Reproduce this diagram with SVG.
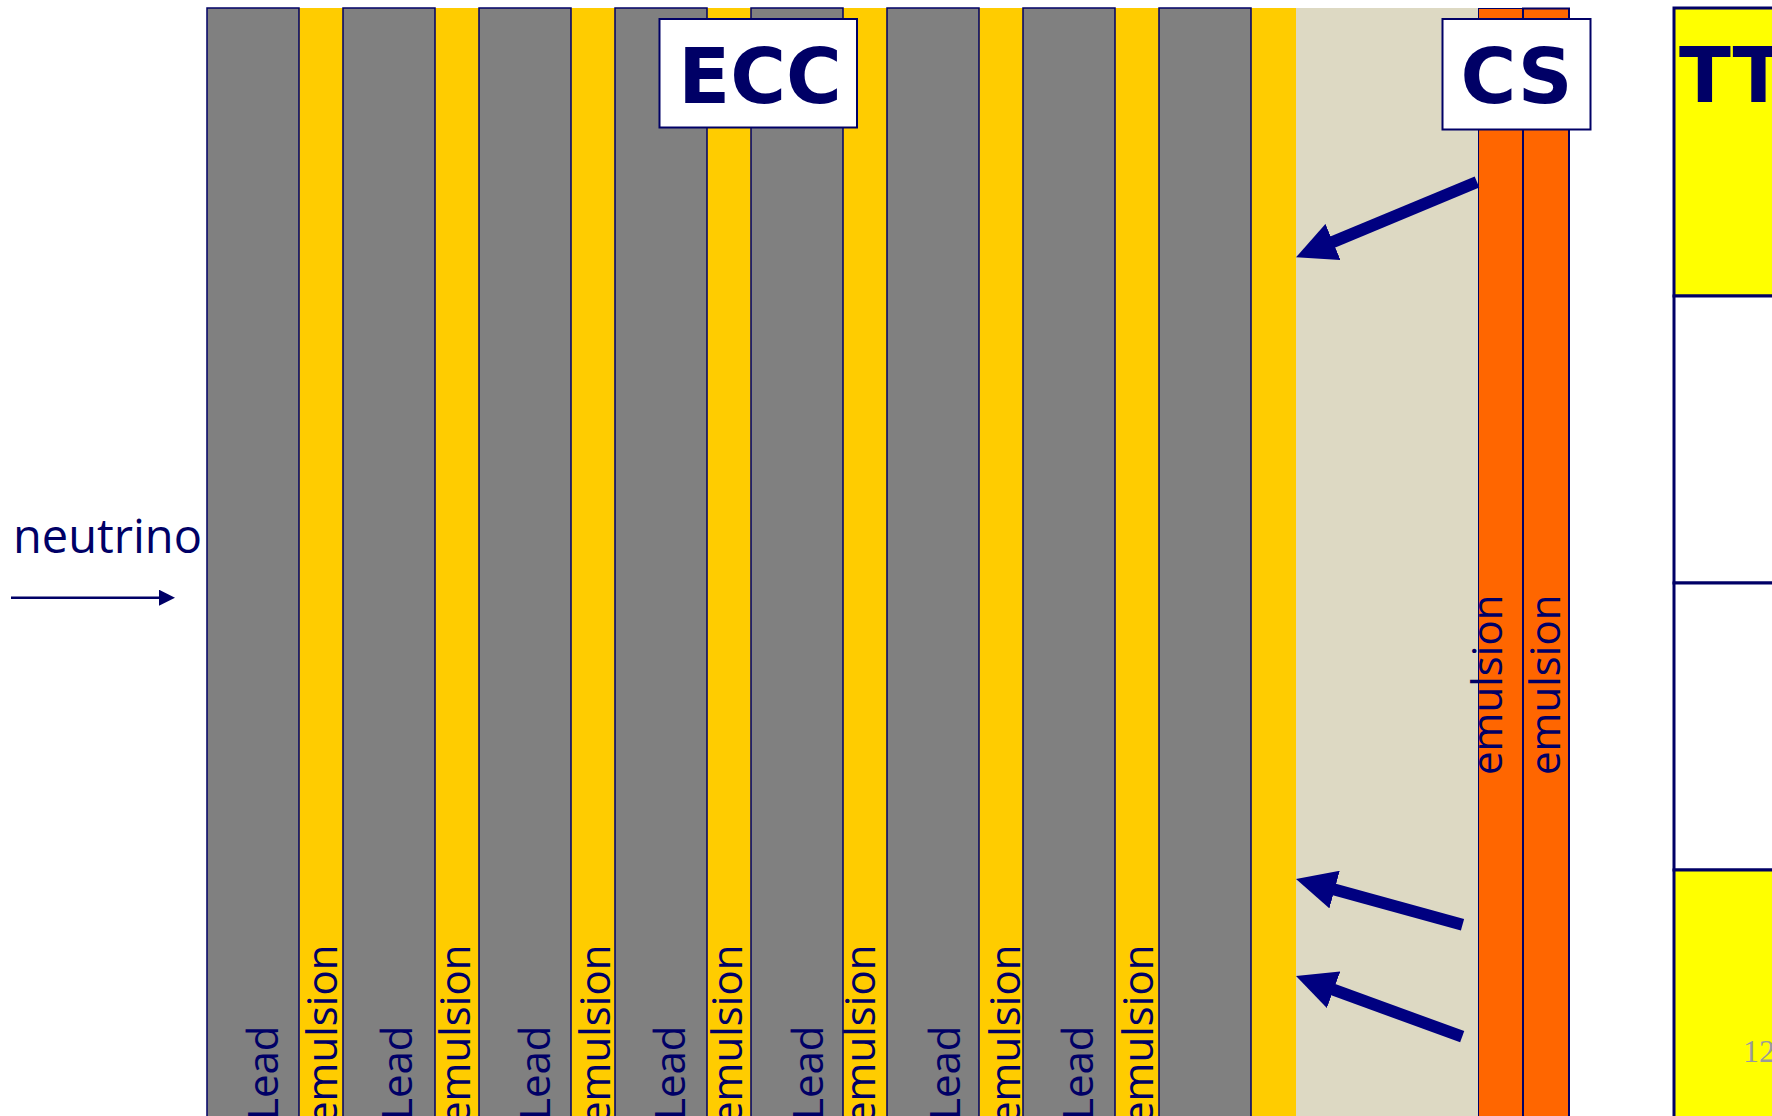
<svg xmlns="http://www.w3.org/2000/svg" width="1772" height="1116" viewBox="0 0 1772 1116">
<style>
.lead{fill:#808080;stroke:#000066;stroke-width:1.5}
.lbl{font-family:"Open Sans","Liberation Sans",sans-serif;font-size:42px;fill:#000066}
.title{font-family:"DejaVu Sans","Liberation Sans",sans-serif;font-weight:bold;font-size:76px;fill:#000066}
.box{fill:#ffffff;stroke:#000066;stroke-width:2}
.orange{fill:#FF6600;stroke:#000066}
.tt{stroke:#000066;stroke-width:3}
.big{stroke:#000080;stroke-width:12;fill:none;marker-end:url(#bighead)}
</style>
<defs>
<marker id="bighead" markerUnits="userSpaceOnUse" viewBox="0 0 40 39" markerWidth="40" markerHeight="39" refX="20" refY="19.5" orient="auto"><path d="M0,0 L40,19.5 L0,39 z" fill="#000080"/></marker>
<marker id="smallhead" markerUnits="userSpaceOnUse" viewBox="0 0 16 16" markerWidth="16" markerHeight="16" refX="2" refY="8" orient="auto"><path d="M0,0 L16,8 L0,16 z" fill="#000066"/></marker>
</defs>
<rect width="1772" height="1116" fill="#ffffff"/>
<g id="ecc">
<rect x="207" y="8" width="1089" height="1110" fill="#FFCC00"/>
<rect class="lead" x="207" y="8" width="92" height="1112"/>
<rect class="lead" x="343" y="8" width="92" height="1112"/>
<rect class="lead" x="479" y="8" width="92" height="1112"/>
<rect class="lead" x="615" y="8" width="92" height="1112"/>
<rect class="lead" x="751" y="8" width="92" height="1112"/>
<rect class="lead" x="887" y="8" width="92" height="1112"/>
<rect class="lead" x="1023" y="8" width="92" height="1112"/>
<rect class="lead" x="1159" y="8" width="92" height="1112"/>
<text class="lbl" transform="translate(278,1120) rotate(-90)" font-size="41">Lead</text>
<text class="lbl" transform="translate(412,1120) rotate(-90)" font-size="41">Lead</text>
<text class="lbl" transform="translate(550,1120) rotate(-90)" font-size="41">Lead</text>
<text class="lbl" transform="translate(685,1120) rotate(-90)" font-size="41">Lead</text>
<text class="lbl" transform="translate(823,1120) rotate(-90)" font-size="41">Lead</text>
<text class="lbl" transform="translate(960,1120) rotate(-90)" font-size="41">Lead</text>
<text class="lbl" transform="translate(1093,1120) rotate(-90)" font-size="41">Lead</text>
<text class="lbl" transform="translate(337,1125) rotate(-90)">emulsion</text>
<text class="lbl" transform="translate(470,1125) rotate(-90)">emulsion</text>
<text class="lbl" transform="translate(610,1125) rotate(-90)">emulsion</text>
<text class="lbl" transform="translate(742,1125) rotate(-90)">emulsion</text>
<text class="lbl" transform="translate(875,1125) rotate(-90)">emulsion</text>
<text class="lbl" transform="translate(1020,1125) rotate(-90)">emulsion</text>
<text class="lbl" transform="translate(1153,1125) rotate(-90)">emulsion</text>
</g>
<g id="gap">
<rect x="1296" y="8" width="182" height="1110" fill="#DDD9C3"/>
</g>
<g id="cs">
<rect class="orange" x="1478.5" y="8.5" width="45" height="1112" stroke-width="1"/>
<rect class="orange" x="1523" y="8.5" width="46" height="1112" stroke-width="2"/>
<text class="lbl" transform="translate(1501.5,775) rotate(-90)">emulsion</text>
<text class="lbl" transform="translate(1560,775) rotate(-90)">emulsion</text>
</g>
<g id="tt">
<rect class="tt" x="1674" y="8" width="110" height="288" fill="#FFFF00"/>
<rect class="tt" x="1674" y="296" width="110" height="287" fill="#ffffff"/>
<rect class="tt" x="1674" y="583" width="110" height="287" fill="#ffffff"/>
<rect class="tt" x="1674" y="870" width="110" height="260" fill="#FFFF00"/>
<text class="title" x="1679" y="102">TT</text>
</g>
<g id="ecc-label">
<rect class="box" x="659.5" y="19" width="197.5" height="108.5"/>
<text class="title" x="760" y="103" text-anchor="middle">ECC</text>
</g>
<g id="cs-label">
<rect class="box" x="1442.5" y="19" width="148" height="110.5"/>
<text class="title" x="1516.5" y="103" text-anchor="middle">CS</text>
</g>
<g id="neutrino">
<text x="13" y="553" font-family="'Open Sans','Liberation Sans',sans-serif" font-size="47" fill="#000066">neutrino</text>
</g>
<g id="connectors">
<line x1="11" y1="597.7" x2="161" y2="597.7" stroke="#000066" stroke-width="2.6" marker-end="url(#smallhead)"/>
<line class="big" x1="1477" y1="182" x2="1314.5" y2="249.6"/>
<line class="big" x1="1462.5" y1="924.7" x2="1315.3" y2="884.3"/>
<line class="big" x1="1462.2" y1="1036.7" x2="1314.8" y2="982.9"/>
</g>
<text x="1743" y="1062" font-family="'Liberation Serif',serif" font-size="32" fill="#9a9a9a">12</text>
</svg>
